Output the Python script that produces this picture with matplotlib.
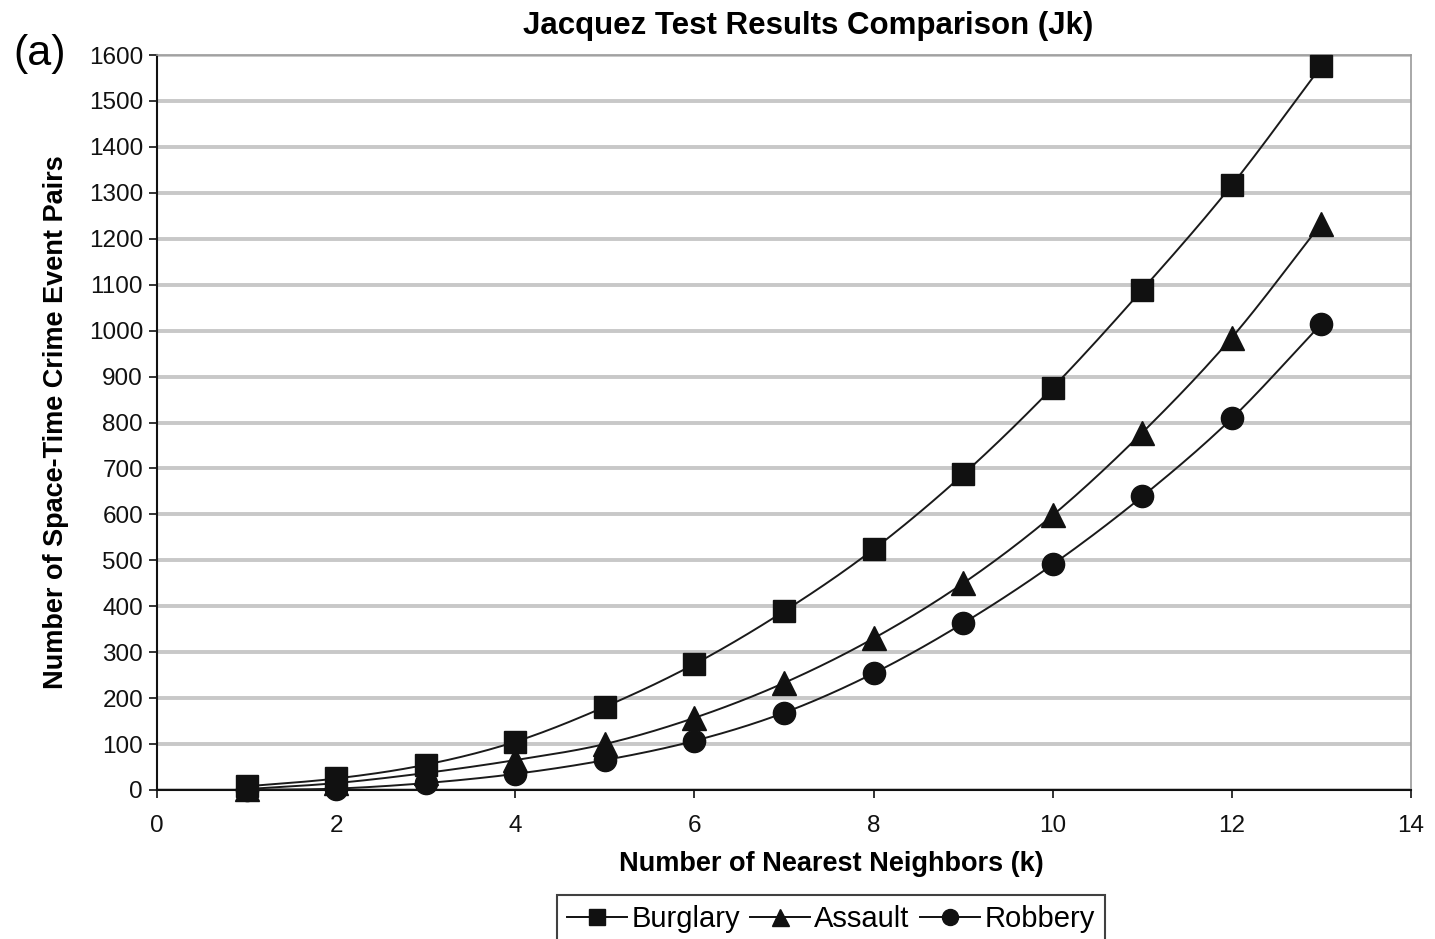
import numpy as np
import matplotlib
matplotlib.use("Agg")
import matplotlib.pyplot as plt
from matplotlib.lines import Line2D

plt.rcParams['font.family'] = ['Liberation Sans', 'DejaVu Sans']

k = [1, 2, 3, 4, 5, 6, 7, 8, 9, 10, 11, 12, 13]
burglary = [8, 25, 55, 105, 181, 274, 389, 524, 687, 876, 1089, 1317, 1576]
assault = [2, 15, 37, 65, 100, 157, 233, 330, 450, 598, 778, 985, 1233]
robbery = [0, 3, 15, 35, 65, 107, 168, 254, 363, 491, 639, 809, 1015]

series = [("Burglary", burglary, "s", 16),
          ("Assault", assault, "^", 17),
          ("Robbery", robbery, "o", 16)]


def smooth(x, y, n=20):
    """Catmull-Rom curve through the points, like a spreadsheet 'smoothed line'."""
    x = np.asarray(x, float)
    y = np.asarray(y, float)
    px = np.concatenate([[2 * x[0] - x[1]], x, [2 * x[-1] - x[-2]]])
    py = np.concatenate([[2 * y[0] - y[1]], y, [2 * y[-1] - y[-2]]])
    xs, ys = [], []
    t = np.linspace(0, 1, n, endpoint=False)
    for i in range(1, len(px) - 2):
        for arr, out in ((px, xs), (py, ys)):
            p0, p1, p2, p3 = arr[i - 1], arr[i], arr[i + 1], arr[i + 2]
            out.extend(0.5 * ((2 * p1) + (-p0 + p2) * t
                              + (2 * p0 - 5 * p1 + 4 * p2 - p3) * t ** 2
                              + (-p0 + 3 * p1 - 3 * p2 + p3) * t ** 3))
    xs.append(x[-1])
    ys.append(y[-1])
    return np.array(xs), np.array(ys)


fig = plt.figure(figsize=(14.35, 9.39), dpi=100)
ax = fig.add_axes([0.1094, 0.1587, 0.8739, 0.7827])

for name, vals, mk, ms in series:
    sx, sy = smooth(k, vals)
    ax.plot(sx, sy, color='#1a1a1a', lw=1.4, zorder=3)
    ax.plot(k, vals, linestyle='none', marker=mk, ms=ms, color='#111111',
            zorder=4, clip_on=False)

# legend handles: line with marker
handles = [Line2D([0], [0], color='#111111', lw=1.4, marker=mk, ms=ms * 0.72)
           for _, _, mk, ms in series]
leg = fig.legend(handles, [s[0] for s in series], loc='upper center',
                 bbox_to_anchor=(0.579, 0.047), ncol=3, frameon=True,
                 fontsize=21, handlelength=2.05, handletextpad=0.15,
                 columnspacing=0.35, borderpad=0.35, borderaxespad=0,
                 fancybox=False)
leg.get_frame().set_edgecolor('#111111')
leg.get_frame().set_linewidth(1.5)

ax.set_xlim(0, 14)
ax.set_ylim(0, 1600)
ax.set_xticks(range(0, 15, 2))
ax.set_yticks(range(0, 1601, 100))
ax.yaxis.grid(True, color='#c8c8c8', lw=2.8)
ax.set_axisbelow(True)
ax.tick_params(axis='both', direction='out', length=6, width=1.2,
               labelsize=17.5, colors='#111111')
ax.tick_params(axis='y', pad=4)
ax.tick_params(axis='x', pad=12)

for s in ('left', 'bottom'):
    ax.spines[s].set_color('#111111')
    ax.spines[s].set_linewidth(1.5)
for s in ('top', 'right'):
    ax.spines[s].set_color('#9a9a9a')
    ax.spines[s].set_linewidth(1.2)

ax.set_xlabel('Number of Nearest Neighbors (k)', fontsize=19.5, fontweight='bold')
ax.xaxis.set_label_coords(0.5375, -0.083)
ax.set_ylabel('Number of Space-Time Crime Event Pairs', fontsize=19.5,
              fontweight='bold', labelpad=14)
fig.text(0.563, 0.972, 'Jacquez Test Results Comparison (Jk)', ha='center',
         va='center', fontsize=22.5, fontweight='bold')
fig.text(0.009, 0.943, '(a)', ha='left', va='center', fontsize=31)

fig.savefig('out.png', dpi=100)
